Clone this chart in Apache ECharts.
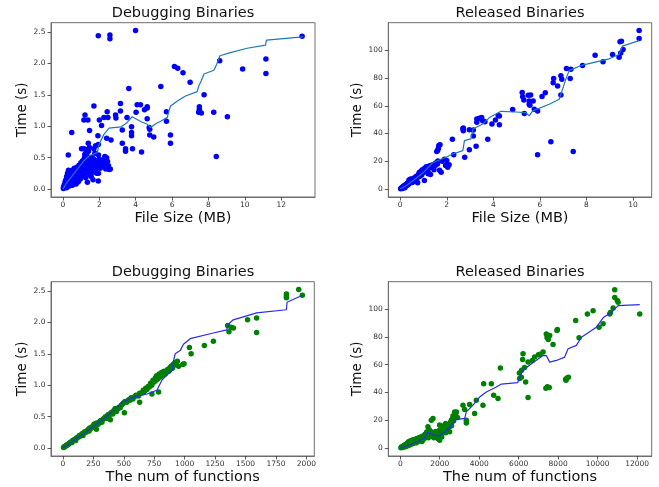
<!DOCTYPE html>
<html>
<head>
<meta charset="utf-8">
<script src="https://cdn.jsdelivr.net/npm/echarts@6/dist/echarts.min.js"></script>
<style>html,body{margin:0;padding:0;background:#fff}#c{width:659px;height:487px}</style>
</head>
<body>
<div id="c"></div>
<script>
// ---------- data ----------
var titles = ['Debugging Binaries', 'Released Binaries', 'Debugging Binaries', 'Released Binaries'];
var xNames = ['File Size (MB)', 'File Size (MB)', 'The num of functions', 'The num of functions'];
var yName = 'Time (s)';

var ticksX1 = [0, 2, 4, 6, 8, 10, 12];
var ticksY1 = [0, 0.5, 1.0, 1.5, 2.0, 2.5];
var ticksX2 = [0, 2, 4, 6, 8, 10];
var ticksY2 = [0, 20, 40, 60, 80, 100];
var ticksX3 = [0, 250, 500, 750, 1000, 1250, 1500, 1750, 2000];
var ticksY3 = [0, 0.5, 1.0, 1.5, 2.0, 2.5];
var ticksX4 = [0, 2000, 4000, 6000, 8000, 10000, 12000];
var ticksY4 = [0, 20, 40, 60, 80, 100];

// Debugging binaries: file size (MB) vs time (s)
var debugSizeTime = [
 [1.94,2.44],[2.58,2.45],[2.58,2.39],[3.99,2.52],[13.15,2.43],[8.62,2.04],[11.16,2.07],[11.16,1.84],[9.88,1.91],
 [6.13,1.95],[6.31,1.92],[6.6,1.85],[6.99,1.70],[5.38,1.63],[3.62,1.60],[7.76,1.50],
 [7.5,1.31],[7.5,1.27],[7.46,1.22],[7.61,1.21],[8.29,1.22],[9.04,1.15],[8.43,0.52],
 [5.69,1.23],[5.69,1.08],[5.91,0.86],[5.91,0.73],[4.77,0.95],[4.74,0.98],[4.77,0.86],[4.99,0.83],
 [4.63,1.29],[4.48,1.26],[4.63,1.12],[4.63,1.31],[4.08,1.34],[4.26,1.34],[4.02,1.22],[3.52,1.14],
 [3.16,1.36],[3.16,1.24],[2.89,1.18],[2.91,1.13],[2.43,1.23],[2.47,1.14],[2.25,1.14],[2.0,1.1],
 [1.7,1.32],[1.21,1.18],[1.15,1.10],[1.37,1.10],[0.48,0.90],[1.92,0.85],[1.46,0.93],[2.12,1.01],
 [2.64,0.78],[2.4,0.81],[3.26,0.94],[3.77,0.99],[3.77,0.90],[3.77,0.85],[3.26,0.73],[3.44,0.64],[3.44,0.60],
 [3.82,0.64],[4.32,0.59],[0.29,0.54],[1.39,0.73],[1.15,0.64],[1.7,0.64],[1.79,0.69],[1.94,0.71],
 [2.30,0.52],[2.30,0.47],[2.52,0.32],[1.94,0.13],[1.34,0.11],[0.79,0.11],[0.24,0.08],
 [1.25,0.63],[1.45,0.66],[1.2,0.55],[1.6,0.5],[1.75,0.57],[1.95,0.54],[2.0,0.48],[2.2,0.38],[2.55,0.31],
 [1.55,0.2],[1.85,0.25],[1.65,0.15],[1.02,0.64],[1.24,0.56],
 [0.02,0.01],[0.03,0.03],[0.05,0.02],[0.06,0.06],[0.08,0.04],[0.1,0.08],[0.12,0.03],[0.12,0.12],[0.15,0.06],
 [0.16,0.15],[0.18,0.1],[0.2,0.02],[0.2,0.2],[0.22,0.13],[0.25,0.07],[0.25,0.25],[0.28,0.17],[0.3,0.1],
 [0.3,0.3],[0.32,0.22],[0.35,0.05],[0.35,0.14],[0.38,0.27],[0.4,0.2],[0.42,0.09],[0.45,0.24],[0.48,0.15],
 [0.5,0.3],[0.52,0.06],[0.55,0.2],[0.58,0.26],[0.6,0.12],[0.62,0.33],[0.65,0.22],[0.68,0.17],[0.7,0.3],
 [0.72,0.08],[0.75,0.25],[0.78,0.35],[0.8,0.19],[0.82,0.28],[0.85,0.12],[0.88,0.38],[0.9,0.23],[0.92,0.31],
 [0.95,0.16],[0.98,0.42],[1.0,0.27],[1.02,0.35],[1.05,0.2],[1.08,0.45],[1.1,0.3],[1.12,0.38],[1.15,0.24],
 [1.18,0.5],[1.2,0.33],[1.22,0.42],[1.25,0.18],[1.28,0.28],[1.3,0.55],[1.32,0.37],[1.35,0.46],[1.38,0.25],
 [1.4,0.6],[1.42,0.33],[1.45,0.4],[1.5,0.22],[1.52,0.5],[1.55,0.3],[1.58,0.43],[1.6,0.36],[1.65,0.27],
 [1.68,0.48],[1.72,0.34],[1.75,0.4],[1.8,0.3],[1.85,0.45],[1.9,0.38],[1.95,0.25],[2.0,0.42],[2.05,0.33],
 [2.1,0.36],[2.2,0.45],[2.3,0.4],[2.35,0.32],[2.4,0.5],[2.45,0.44],[2.6,0.32],[2.5,0.37]
];
var debugSizeTrend = [
 [0,0],[0.2,0.1],[0.42,0.18],[0.8,0.32],[1.15,0.45],[1.45,0.53],[1.7,0.56],[1.89,0.58],[1.98,0.71],[2.25,0.87],
 [2.53,0.97],[3.2,0.99],[3.5,1.05],[3.8,1.15],[3.9,1.12],[4.3,1.07],[4.64,1.03],[4.82,0.98],[5.1,1.04],[5.37,1.08],
 [5.74,1.14],[5.82,1.24],[5.92,1.32],[6.29,1.4],[6.74,1.48],[7.38,1.55],[7.47,1.64],[7.6,1.72],[7.75,1.83],[8.3,1.89],
 [8.45,1.98],[8.63,2.12],[9.21,2.17],[10.13,2.24],[11.14,2.29],[11.19,2.37],[13.2,2.42]
];

// Released binaries: file size (MB) vs time (s)
var releaseSizeTime = [
 [0.02,0.3],[0.05,0.8],[0.08,1.2],[0.1,0.5],[0.12,1.8],[0.15,1.4],[0.18,2.5],[0.2,1.0],[0.22,3.0],[0.25,2.2],
 [0.28,3.6],[0.3,2.8],[0.32,4.5],[0.35,3.3],[0.38,6.5],[0.4,4.2],[0.42,5.0],[0.45,7.2],[0.48,5.5],[0.5,6.8],
 [0.52,4.8],[0.55,7.5],[0.58,6.2],[0.6,8.0],[0.62,5.8],[0.65,7.0],[0.68,9.0],[0.7,6.5],[0.72,8.2],[0.75,4.5],
 [0.78,10.5],[0.8,8.8],[0.82,12.0],[0.85,9.5],[0.88,11.0],[0.9,13.0],[0.92,10.2],[0.95,14.0],[0.98,11.8],[1.0,12.8],
 [1.04,6.2],[1.05,15.0],[1.1,13.5],[1.12,16.0],[1.15,14.5],[1.2,12.5],[1.22,16.5],[1.25,15.5],[1.3,17.0],[1.3,10.5],
 [1.35,15.8],[1.4,17.5],[1.45,16.5],[1.5,18.5],[1.52,17.2],[1.55,19.0],[1.6,18.0],[1.62,20.2],
 [1.76,12.2],[1.69,13.5],[2.04,15.7],[1.95,17],[2.1,17.5],[1.8,20],[1.9,21.5],[2.0,20.5],[1.45,14],[1.2,11],
 [1.61,27.7],[1.64,29.4],[1.66,31.3],[1.71,32],[1.57,27],
 [2.24,35.8],[2.3,24.8],[2.77,22.9],[2.97,28.4],[3.26,30.8],[3.14,38.2],[2.71,43.9],[2.71,42],[2.69,43.4],
 [3.14,42.5],[2.97,42.8],
 [3.29,50.4],[3.29,48.2],[3.4,51],[3.5,51.5],[3.54,49.2],[3.64,48.4],[3.76,35.8],[3.94,46.8],[4.09,49.7],
 [4.26,46.3],[4.26,52.7],[4.21,53],[4.83,57.3],
 [5.33,54.4],[5.26,66.4],[5.31,64.2],[5.24,69.5],[5.6,67.8],[5.5,67.5],[5.54,63.5],[5.71,63.5],[5.54,61],
 [5.57,60.4],[5.76,57.5],[5.9,56.3],
 [6.09,66.6],[6.23,69.4],[6.9,67.8],[6.76,74.2],[6.57,76.6],[6.59,79.7],[6.9,81.6],[6.94,79],[7.3,79.7],
 [7.14,86.9],[7.33,86.2],[7.83,89],[8.37,96.4],[8.71,91.6],[9.12,96.9],[9.4,95],[9.47,98],[9.57,100.5],
 [9.44,106],[9.5,106.5],[10.26,114.1],[10.26,108.4],
 [6.47,34.1],[5.9,24.8],[7.43,27]
];
var releaseSizeTrend = [
 [0,0],[0.3,3],[0.7,8],[1.0,12],[1.4,19],[1.97,22.9],[2.26,25.3],[2.69,27.7],[2.76,34.9],[3.04,36.1],
 [3.12,43.2],[3.54,46.8],[3.83,51.5],[4.11,54],[4.33,56],[4.97,55.5],[5.4,55],[5.54,52.7],[5.69,56.3],
 [6.4,61.1],[6.83,64.7],[6.97,71.8],[7.11,79],[7.26,85.5],[7.83,89.3],[8.97,93.8],[9.4,96.9],[9.54,102.9],
 [10.26,106.9]
];

// Debugging binaries: number of functions vs time (s)
var debugFuncTime = [
 [5,0.01],[10,0.02],[15,0.02],[20,0.03],[25,0.04],[30,0.04],[35,0.05],[40,0.06],[45,0.06],[50,0.07],
 [55,0.08],[60,0.09],[70,0.1],[75,0.09],[80,0.12],[90,0.13],[100,0.14],[105,0.12],[110,0.16],[120,0.17],
 [130,0.18],[135,0.2],[140,0.19],[150,0.21],[160,0.23],[165,0.2],[170,0.24],[180,0.26],[190,0.25],[200,0.28],
 [210,0.3],[215,0.27],[220,0.32],[230,0.31],[240,0.34],[250,0.35],[255,0.38],[260,0.33],[270,0.39],[275,0.3],
 [280,0.4],[290,0.38],[300,0.42],[310,0.44],[320,0.41],[330,0.46],[340,0.48],[350,0.5],[360,0.47],[370,0.53],
 [380,0.52],[390,0.55],[400,0.57],[410,0.54],[420,0.6],[430,0.63],[440,0.58],[450,0.62],[460,0.65],[470,0.64],
 [480,0.68],[490,0.7],[500,0.72],[510,0.74],[525,0.73],[540,0.77],[550,0.76],[560,0.8],[575,0.78],[590,0.82],
 [600,0.84],[620,0.83],[630,0.87],[650,0.88],[660,0.92],[670,0.9],[680,0.95],[690,0.93],[700,0.98],[710,0.97],
 [720,1.03],[730,1.0],[740,1.08],[750,1.05],[760,1.12],[765,1.08],[770,1.15],[780,1.1],[790,1.18],[800,1.13],
 [810,1.2],[820,1.16],[830,1.22],[840,1.18],[860,1.25],[870,1.22],[880,1.28],[890,1.3],[900,1.27],[905,1.33],
 [920,1.36],[930,1.32],[940,1.38],[950,1.3],
 [390,0.45],[505,0.56],[630,0.73],[731,0.86],[786,0.89],
 [1937,2.52],[1967,2.43],[1836,2.45],[1836,2.42],[1836,2.39],[1591,2.07],[1517,2.04],[1591,1.84],[1353,1.95],
 [1380,1.92],[1400,1.91],[1364,1.85],[1236,1.70],[1162,1.63],[1039,1.60],[1053,1.50],[984,1.33],[995,1.34],[922,1.34]
];
var debugFuncTrend = [
 [0,0],[172,0.23],[336,0.47],[417,0.6],[486,0.73],[581,0.81],[691,0.86],[772,0.92],[813,1.08],[854,1.16],
 [895,1.23],[910,1.4],[922,1.5],[963,1.55],[990,1.65],[1045,1.74],[1236,1.83],[1345,1.88],[1358,1.97],
 [1399,2.04],[1591,2.15],[1836,2.2],[1841,2.32],[1967,2.43]
];

// Released binaries: number of functions vs time (s)
var releaseFuncTime = [
 [30,0.2],[60,0.8],[100,1.0],[130,0.5],[160,1.6],[200,1.2],[220,2.2],[260,0.9],[280,1.8],[300,3.0],
 [320,2.4],[350,1.5],[380,3.8],[400,2.8],[420,4.5],[450,2.0],[480,3.5],[500,5.0],[520,4.0],[550,2.8],
 [580,5.5],[600,4.2],[630,3.3],[650,6.0],[680,4.8],[700,3.6],[730,5.8],[760,4.4],[790,6.5],[820,3.9],
 [850,5.2],[880,7.0],[900,4.8],[930,6.0],[960,7.5],[1000,5.5],[1030,8.0],[1060,6.5],[1100,4.8],[1130,8.5],
 [1160,6.2],[1200,9.0],[1230,7.0],[1260,10.0],[1300,8.0],[1340,11.5],[1380,9.5],[1420,7.5],[1450,13.0],[1500,10.5],
 [1550,9.0],[1600,11.5],[1650,8.5],[1700,7.5],[1750,10.0],[1800,12.0],[1850,9.0],[1900,6.8],[1950,11.0],[2000,13.0],
 [2050,10.0],[2100,8.0],[2150,14.0],[2200,12.0],[2250,16.5],[2300,11.0],[2350,14.5],[2400,13.0],[2450,17.0],[2500,15.5],
 [2550,18.5],[2600,16.0],[2650,21.0],[2700,19.5],[2750,22.5],[2800,24.0],[2850,26.0],[2900,22.0],
 [1657,21.3],[1572,20],[1403,15.3],[1488,12.9],[1994,16.5],[2163,15.3],[2298,17.7],[1741,8.1],[1994,5.7],
 [2501,11.7],[2586,20],[2755,26],[2670,23],[3178,30.8],[3262,27.7],[3347,20],[3347,18.1],[3854,34.4],
 [3769,24.8],[4192,30.8],[4226,46.3],[4615,46.3],[4733,38],[4953,35.6],[5071,57.5],[3516,31.3],
 [10868,113.9],[10868,108.3],[11040,104.8],[11000,106],[10786,100.7],[10615,96.4],[10650,97.5],[12135,96.4],
 [9771,98.8],[9483,96.4],[10278,89.3],[10075,86.9],[8890,91.7],[9061,79.3],[7961,85.2],[7940,84.5],
 [7438,79.5],[7400,82],[7500,78],[7573,81],[7742,74.5],[7236,69],[7000,67],[7080,67.5],[6810,65.4],
 [6221,67.8],[6200,63.7],[6475,61.8],[6694,63],[6035,53.9],[6136,51],[6355,47.5],[6475,36.3],
 [7455,44],[7380,43],[7550,43.5],[8453,50.3],[8380,49.5],[8520,51],[8400,48.8],[6050,50],[6150,56],[6300,58]
];
var releaseFuncTrend = [
 [0,0],[676,3.3],[1200,7],[1403,11.5],[1500,10.5],[1657,9.3],[1944,8.6],[2163,10.5],[2500,15],[2840,20.5],
 [3262,21.3],[3347,26],[3700,31],[4022,36.7],[4361,40.3],[4868,43.9],[5122,46],[5950,47],[6050,51],[6221,55.9],
 [6643,60.6],[7236,66.6],[7400,66.5],[7573,61.8],[7911,63],[8332,65.4],[8504,71.4],[8925,73.8],[9179,79.7],
 [9939,86.9],[10279,93.6],[10700,97.6],[11040,102.4],[12135,103.1]
];

// ---------- chart ----------
var FONT = 'DejaVu Sans';
var grids = [
 {left: 51, top: 22.7, width: 264, height: 174.3},
 {left: 388.3, top: 22.7, width: 263.4, height: 174.3},
 {left: 51, top: 281.7, width: 263.3, height: 174.3},
 {left: 388.3, top: 281.7, width: 263.4, height: 174.3}
];
var xRanges = [[-0.66, 13.86], [-0.51, 10.8], [-98, 2065], [-607, 12742]];
var yRanges = [[-0.126, 2.646], [-5.7, 119.8], [-0.126, 2.646], [-5.7, 119.6]];
var xTicks = [ticksX1, ticksX2, ticksX3, ticksX4];
var yTicks = [ticksY1, ticksY2, ticksY3, ticksY4];
var yFmt = [function(v){return v.toFixed(1);}, function(v){return String(v);},
            function(v){return v.toFixed(1);}, function(v){return String(v);}];

var labelStyle = {fontSize: 7.5, fontFamily: FONT, color: '#333'};
var tickStyle = {show: true, inside: false, length: 3.5, lineStyle: {color: '#333', width: 0.8}};
var lineOff = {show: true, onZero: false, lineStyle: {color: '#6e6e6e', width: 1}};

var option = {
  animation: false,
  backgroundColor: '#fff',
  grid: grids.map(function(g){
    return Object.assign({show: true, borderColor: '#6e6e6e', borderWidth: 1, backgroundColor: 'transparent', containLabel: false, outerBoundsMode: 'none'}, g);
  }),
  xAxis: grids.map(function(g, i){
    return {
      type: 'value', gridIndex: i, min: xRanges[i][0], max: xRanges[i][1], position: 'bottom',
      name: xNames[i], nameLocation: 'middle', nameGap: i < 2 ? 13 : 12.5,
      nameTextStyle: {fontSize: 14.5, fontFamily: FONT, color: '#111'},
      axisLine: lineOff, splitLine: {show: false},
      axisTick: Object.assign({customValues: xTicks[i]}, tickStyle),
      axisLabel: Object.assign({customValues: xTicks[i], margin: 4.5, formatter: function(v){return String(v);}}, labelStyle)
    };
  }),
  yAxis: grids.map(function(g, i){
    return {
      type: 'value', gridIndex: i, min: yRanges[i][0], max: yRanges[i][1], position: 'left',
      name: yName, nameLocation: 'middle', nameGap: 22,
      nameTextStyle: {fontSize: 13.5, fontFamily: FONT, color: '#111'},
      axisLine: lineOff, splitLine: {show: false},
      axisTick: Object.assign({customValues: yTicks[i]}, tickStyle),
      axisLabel: Object.assign({customValues: yTicks[i], margin: 5.5, formatter: yFmt[i]}, labelStyle)
    };
  }),
  graphic: [
    {type: 'text', x: 183, y: 13.2, style: {text: titles[0], fontSize: 14.5, fontFamily: FONT, fill: '#111', align: 'center', verticalAlign: 'middle'}},
    {type: 'text', x: 520, y: 13.2, style: {text: titles[1], fontSize: 14.5, fontFamily: FONT, fill: '#111', align: 'center', verticalAlign: 'middle'}},
    {type: 'text', x: 183, y: 272.6, style: {text: titles[2], fontSize: 14.5, fontFamily: FONT, fill: '#111', align: 'center', verticalAlign: 'middle'}},
    {type: 'text', x: 520, y: 272.6, style: {text: titles[3], fontSize: 14.5, fontFamily: FONT, fill: '#111', align: 'center', verticalAlign: 'middle'}}
  ],
  series: [
    {type: 'scatter', xAxisIndex: 0, yAxisIndex: 0, data: debugSizeTime, symbolSize: 5.5, itemStyle: {color: '#0000ff', opacity: 1}},
    {type: 'line', xAxisIndex: 0, yAxisIndex: 0, data: debugSizeTrend, showSymbol: false, lineStyle: {color: '#1f77b4', width: 1.2}},
    {type: 'scatter', xAxisIndex: 1, yAxisIndex: 1, data: releaseSizeTime, symbolSize: 5.5, itemStyle: {color: '#0000ff', opacity: 1}},
    {type: 'line', xAxisIndex: 1, yAxisIndex: 1, data: releaseSizeTrend, showSymbol: false, lineStyle: {color: '#1f77b4', width: 1.2}},
    {type: 'scatter', xAxisIndex: 2, yAxisIndex: 2, data: debugFuncTime, symbolSize: 5.5, itemStyle: {color: '#008000', opacity: 1}},
    {type: 'line', xAxisIndex: 2, yAxisIndex: 2, data: debugFuncTrend, showSymbol: false, lineStyle: {color: '#2b2bea', width: 1.2}},
    {type: 'scatter', xAxisIndex: 3, yAxisIndex: 3, data: releaseFuncTime, symbolSize: 5.5, itemStyle: {color: '#008000', opacity: 1}},
    {type: 'line', xAxisIndex: 3, yAxisIndex: 3, data: releaseFuncTrend, showSymbol: false, lineStyle: {color: '#2b2bea', width: 1.2}}
  ]
};
var chart = echarts.init(document.getElementById('c'), null, {renderer: 'canvas'});
chart.setOption(option);
</script>
</body>
</html>
